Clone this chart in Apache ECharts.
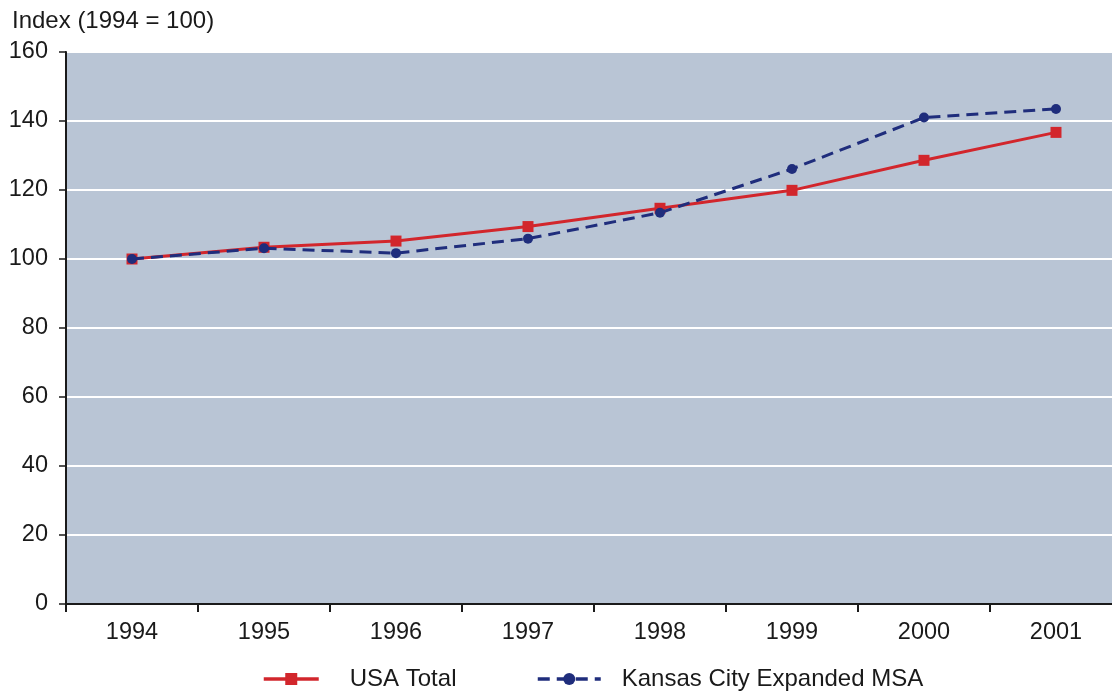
<!DOCTYPE html>
<html>
<head>
<meta charset="utf-8">
<style>
  html, body { margin: 0; padding: 0; background: #ffffff; }
  #chart { width: 1112px; height: 692px; }
</style>
<script src="https://cdn.jsdelivr.net/npm/echarts@6/dist/echarts.min.js"></script>
</head>
<body>
<div id="chart"></div>
<script>
// Employment index, 1994 = 100
const years = ['1994', '1995', '1996', '1997', '1998', '1999', '2000', '2001'];
const usaTotal = [100, 103.4, 105.2, 109.4, 114.7, 119.9, 128.6, 136.7];
const kansasCity = [100, 103.1, 101.7, 105.9, 113.4, 126.1, 141.0, 143.5];
const yTicks = [0, 20, 40, 60, 80, 100, 120, 140, 160];

const FONT = '"Liberation Sans", Arial, sans-serif';
const RED = '#d2262c';
const NAVY = '#1f2d7c';
const INK = '#1a1a1a';

const chart = echarts.init(document.getElementById('chart'), null, { renderer: 'canvas' });

chart.setOption({
  animation: false,
  backgroundColor: '#ffffff',
  textStyle: { fontFamily: FONT },
  graphic: [{
    type: 'text',
    left: 12,
    top: 9,
    style: { text: 'Index (1994 = 100)', font: '24px ' + FONT, fill: INK }
  }],
  grid: {
    left: 66,
    top: 52,
    width: 1056,
    height: 552,
    containLabel: false,
    outerBoundsMode: 'none',
    show: true,
    backgroundColor: '#b9c5d5',
    borderColor: INK,
    borderWidth: 2
  },
  legend: [{
    data: ['USA Total'],
    left: 257,
    top: 662,
    itemWidth: 55,
    itemHeight: 15,
    itemGap: 0,
    lineStyle: { width: 3.5 },
    textStyle: { fontSize: 24, color: INK, fontFamily: FONT, padding: [0, 0, 0, 26] }
  }, {
    data: ['Kansas City Expanded MSA'],
    left: 531,
    top: 662,
    itemWidth: 63,
    itemHeight: 15,
    itemGap: 0,
    lineStyle: { width: 3.5 },
    textStyle: { fontSize: 24, color: INK, fontFamily: FONT, padding: [0, 0, 0, 16] }
  }],
  xAxis: {
    type: 'category',
    data: years,
    boundaryGap: true,
    axisLine: { lineStyle: { color: INK, width: 2 } },
    axisTick: { show: true, length: 8, lineStyle: { color: INK, width: 2 } },
    axisLabel: { fontSize: 23.5, color: INK, margin: 17, fontFamily: FONT },
    splitLine: { show: false }
  },
  yAxis: {
    type: 'value',
    min: yTicks[0],
    max: yTicks[yTicks.length - 1],
    interval: 20,
    axisLine: { show: true, lineStyle: { color: INK, width: 2 } },
    axisTick: { show: true, length: 7, lineStyle: { color: INK, width: 1.5 } },
    axisLabel: { fontSize: 23.5, color: INK, margin: 18, fontFamily: FONT },
    splitLine: { show: true, lineStyle: { color: '#ffffff', width: 2 } }
  },
  series: [{
    name: 'USA Total',
    type: 'line',
    data: usaTotal,
    symbol: 'rect',
    symbolSize: 11,
    itemStyle: { color: RED },
    lineStyle: { color: RED, width: 3 },
    z: 3
  }, {
    name: 'Kansas City Expanded MSA',
    type: 'line',
    data: kansasCity,
    symbol: 'circle',
    symbolSize: 10,
    itemStyle: { color: NAVY },
    lineStyle: { color: NAVY, width: 3, type: [12, 7] },
    z: 4
  }]
});
</script>
</body>
</html>
